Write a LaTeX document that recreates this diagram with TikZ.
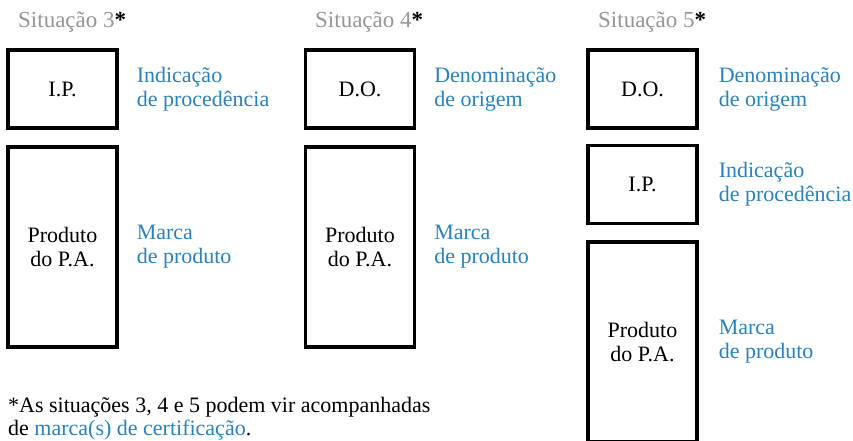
\documentclass[tikz,border=0pt]{standalone}
\usepackage{fontspec}
\setmainfont{Liberation Serif}
\usetikzlibrary{positioning}
\definecolor{sitgray}{RGB}{150,150,150}
\definecolor{markblue}{RGB}{40,130,190}
\newcommand{\sitmark}{{\color{black}\textbf{*}}}
\tikzset{
  box/.style={draw, line width=3.1pt, minimum width=109pt, align=center, inner sep=0pt, font=\fontsize{22}{24}\selectfont},
  small/.style={box, minimum height=78pt},
  tall/.style={box, minimum height=200pt},
  lbl/.style={text=markblue, align=left, inner sep=0pt, font=\fontsize{22}{24}\selectfont},
  head/.style={text=sitgray, anchor=base west, inner sep=0pt, font=\fontsize{23}{24}\selectfont},
  note/.style={anchor=base west, inner sep=0pt, font=\fontsize{22}{24}\selectfont}
}
\begin{document}
\begin{tikzpicture}[x=1pt,y=-1pt]
\useasboundingbox (0,0) rectangle (853,441);
\node [head] (h3) at (18,28) {Situação 3\sitmark};
\node [head] (h4) at (315,28) {Situação 4\sitmark};
\node [head] (h5) at (598,28) {Situação 5\sitmark};
\node [small] (ip3) at (62.5,89) {I.P.};
\node [tall] (pa3) at (62.5,247) {Produto\\do P.A.};
\node [lbl, right=18pt of ip3] (ip3l) {Indicação\\de procedência};
\node [lbl, right=18pt of pa3] (pa3l) {Marca\\de produto};
\node [small] (do4) at (360,89) {D.O.};
\node [tall] (pa4) at (360,247) {Produto\\do P.A.};
\node [lbl, right=18pt of do4] (do4l) {Denominação\\de origem};
\node [lbl, right=18pt of pa4] (pa4l) {Marca\\de produto};
\node [small] (do5) at (642.5,89) {D.O.};
\node [small] (ip5) at (642.5,184.5) {I.P.};
\node [tall] (pa5) at (642.5,342) {Produto\\do P.A.};
\node [lbl, right=20pt of do5] (do5l) {Denominação\\de origem};
\node [lbl, right=20pt of ip5] (ip5l) {Indicação\\de procedência};
\node [lbl, right=20pt of pa5] (pa5l) {Marca\\de produto};
\node [note] (nota) at (8,412) {*As situações 3, 4 e 5 podem vir acompanhadas};
\node [note] (nota2) at (8,435) {de \textcolor{markblue}{marca(s) de certificação}.};
\end{tikzpicture}
\end{document}
